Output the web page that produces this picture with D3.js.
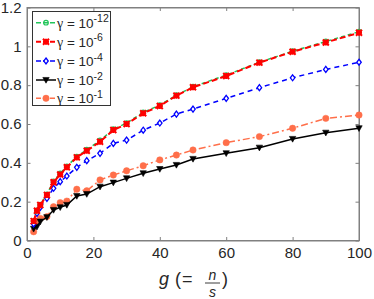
<!DOCTYPE html>
<head>
  <meta charset="utf-8">
  <script src="https://d3js.org/d3.v7.min.js"></script>
  <style>
    body { margin: 0; background: #fff; }
    text { font-family: "Liberation Sans", Arial, sans-serif; fill: #262626; }
  </style>
</head>
<body>
  <div id="graph"></div>
  <script>
    var width = 374, height = 299;

    // data
    var gVals = [2, 3, 4, 6, 8, 10, 12, 15, 18, 22, 26, 30, 35, 40, 45, 50, 60, 70, 80, 90, 100];
    var gamma12 = [0.10, 0.155, 0.185, 0.238, 0.305, 0.345, 0.382, 0.432, 0.468, 0.515, 0.573, 0.605, 0.66, 0.697, 0.748, 0.792, 0.852, 0.918, 0.975, 1.025, 1.075];
    var gamma6 = [0.10, 0.153, 0.183, 0.234, 0.30, 0.34, 0.377, 0.428, 0.462, 0.509, 0.569, 0.60, 0.655, 0.693, 0.746, 0.789, 0.847, 0.916, 0.972, 1.02, 1.07];
    var gamma4 = [0.085, 0.14, 0.171, 0.217, 0.269, 0.303, 0.332, 0.377, 0.411, 0.449, 0.50, 0.517, 0.568, 0.605, 0.651, 0.677, 0.732, 0.787, 0.838, 0.881, 0.918];
    var gamma2 = [0.06, 0.071, 0.097, 0.12, 0.157, 0.171, 0.183, 0.229, 0.239, 0.277, 0.298, 0.32, 0.346, 0.368, 0.389, 0.42, 0.449, 0.478, 0.523, 0.555, 0.578];
    var gamma1 = [0.045, 0.097, 0.114, 0.123, 0.174, 0.195, 0.203, 0.264, 0.256, 0.312, 0.337, 0.359, 0.385, 0.415, 0.44, 0.466, 0.504, 0.535, 0.578, 0.629, 0.646];
    var legendExp = ["-12", "-6", "-4", "-2", "-1"];
    var xTicks = [0, 20, 40, 60, 80, 100];
    var yTicks = [0, 0.2, 0.4, 0.6, 0.8, 1, 1.2];

    var series = [
      { y: gamma12, color: "#22c55a", dash: "4,3", marker: "circleOpen" },
      { y: gamma6, color: "#ff0000", dash: "6,3", marker: "cross" },
      { y: gamma4, color: "#0000ff", dash: "5,4", marker: "diamond" },
      { y: gamma2, color: "#000000", dash: null, marker: "triangle" },
      { y: gamma1, color: "#ff6f4a", dash: "7,3,2,3", marker: "circleFill" }
    ];

    var xmin = 27, xmax = 359, ytop = 7.5, ybot = 240.5;
    var x = d3.scaleLinear().domain([0, 100]).range([xmin, xmax]);
    var y = d3.scaleLinear().domain([0, 1.2]).range([ybot, ytop]);

    var svg = d3.select("#graph").append("svg")
      .attr("width", width)
      .attr("height", height);

    var axisColor = "#808080";

    // axes box + inward ticks
    svg.append("rect")
      .attr("x", xmin).attr("y", ytop)
      .attr("width", xmax - xmin).attr("height", ybot - ytop)
      .attr("fill", "none").attr("stroke", axisColor).attr("stroke-width", 1);

    var xAxis = d3.axisBottom(x).tickValues(xTicks).tickSizeInner(-3.5).tickSizeOuter(0).tickPadding(6.5);
    var gx = svg.append("g").attr("transform", "translate(0," + ybot + ")").call(xAxis);
    var yAxis = d3.axisLeft(y).tickValues(yTicks).tickSizeInner(-3.5).tickSizeOuter(0).tickPadding(5.5)
      .tickFormat(d3.format("~g"));
    var gy = svg.append("g").attr("transform", "translate(" + xmin + ",0)").call(yAxis);
    var gxt = svg.append("g").attr("transform", "translate(0," + ytop + ")")
      .call(d3.axisTop(x).tickValues(xTicks).tickSizeInner(-3.5).tickSizeOuter(0).tickFormat(""));
    var gyr = svg.append("g").attr("transform", "translate(" + xmax + ",0)")
      .call(d3.axisRight(y).tickValues(yTicks).tickSizeInner(-3.5).tickSizeOuter(0).tickFormat(""));

    [gx, gy, gxt, gyr].forEach(function(g) {
      g.select(".domain").attr("stroke", axisColor);
      g.selectAll(".tick line").attr("stroke", axisColor);
      g.selectAll("text").attr("font-size", 15).attr("fill", "#262626")
        .attr("font-family", "Liberation Sans, Arial, sans-serif");
    });

    function drawMarker(g, type, color, cx, cy) {
      if (type === "circleOpen") {
        g.append("circle").attr("cx", cx).attr("cy", cy).attr("r", 2.3)
          .attr("fill", "none").attr("stroke", color).attr("stroke-width", 1.2);
      } else if (type === "circleFill") {
        g.append("circle").attr("cx", cx).attr("cy", cy).attr("r", 3.2)
          .attr("fill", color).attr("stroke", color).attr("stroke-width", 0.5);
      } else if (type === "cross") {
        var s = 3;
        g.append("path")
          .attr("d", "M" + (cx - s) + "," + (cy - s) + "L" + (cx + s) + "," + (cy + s) +
            "M" + (cx - s) + "," + (cy + s) + "L" + (cx + s) + "," + (cy - s) +
            "M" + (cx - s) + "," + cy + "L" + (cx + s) + "," + cy +
            "M" + cx + "," + (cy - s) + "L" + cx + "," + (cy + s))
          .attr("stroke", color).attr("stroke-width", 2).attr("fill", "none");
      } else if (type === "diamond") {
        var d = 3;
        g.append("path")
          .attr("d", "M" + cx + "," + (cy - d) + "L" + (cx + d * 0.75) + "," + cy + "L" + cx + "," + (cy + d) + "L" + (cx - d * 0.75) + "," + cy + "Z")
          .attr("fill", "#fff").attr("stroke", color).attr("stroke-width", 1.3);
      } else if (type === "triangle") {
        var t = 3.2;
        g.append("path")
          .attr("d", "M" + (cx - t) + "," + (cy - t * 0.8) + "L" + (cx + t) + "," + (cy - t * 0.8) + "L" + cx + "," + (cy + t) + "Z")
          .attr("fill", color).attr("stroke", color).attr("stroke-width", 0.6);
      }
    }

    var line = d3.line()
      .x(function(d, i) { return x(gVals[i]); })
      .y(function(d) { return y(d); });

    // draw from back to front: orange, black, blue, green, red
    var order = [4, 3, 2, 0, 1];
    order.forEach(function(k) {
      var s = series[k];
      var g = svg.append("g");
      g.append("path")
        .datum(s.y)
        .attr("d", line)
        .attr("fill", "none")
        .attr("stroke", s.color)
        .attr("stroke-width", s.marker === "cross" ? 2 : 1.5)
        .attr("stroke-dasharray", s.dash);
      s.y.forEach(function(v, i) {
        drawMarker(g, s.marker, s.color, x(gVals[i]), y(v));
      });
    });

    // legend
    var leg = svg.append("g");
    leg.append("rect")
      .attr("x", 32.5).attr("y", 11.5).attr("width", 78).attr("height", 94)
      .attr("fill", "#fff").attr("stroke", "#333").attr("stroke-width", 1);
    var rowY = [22.7, 41.7, 61, 80, 98.3];
    series.forEach(function(s, i) {
      var yy = rowY[i];
      leg.append("line")
        .attr("x1", 36).attr("x2", 56).attr("y1", yy).attr("y2", yy)
        .attr("stroke", s.color).attr("stroke-width", s.marker === "cross" ? 2 : 1.5)
        .attr("stroke-dasharray", s.dash ? "5,2" : null);
      drawMarker(leg, s.marker, s.color, 46, yy);
      var tx = leg.append("text").attr("x", 57).attr("y", yy + 5)
        .attr("font-size", 13.5);
      tx.append("tspan").attr("font-family", "Liberation Serif, serif").attr("font-size", 14).text("\u03b3");
      tx.append("tspan").text(" = 10");
      tx.append("tspan").attr("dy", -5.5).attr("font-size", 10.5).text(legendExp[i]);
    });

    // x label: g (= n/s)
    var serif = "Liberation Serif, Times New Roman, serif";
    var lab = svg.append("g");
    lab.append("text").attr("x", 159).attr("y", 285)
      .attr("font-family", serif).attr("font-style", "italic").attr("font-size", 18).text("g");
    lab.append("text").attr("x", 175).attr("y", 285)
      .attr("font-family", serif).attr("font-size", 18).text("(");
    lab.append("text").attr("x", 182).attr("y", 285)
      .attr("font-family", serif).attr("font-size", 18).text("=");
    lab.append("text").attr("x", 212.5).attr("y", 279.5).attr("text-anchor", "middle")
      .attr("font-family", serif).attr("font-style", "italic").attr("font-size", 14).text("n");
    lab.append("line").attr("x1", 205).attr("x2", 220).attr("y1", 283).attr("y2", 283)
      .attr("stroke", "#262626").attr("stroke-width", 0.9);
    lab.append("text").attr("x", 212.5).attr("y", 297).attr("text-anchor", "middle")
      .attr("font-family", serif).attr("font-style", "italic").attr("font-size", 14).text("s");
    lab.append("text").attr("x", 222).attr("y", 285)
      .attr("font-family", serif).attr("font-size", 18).text(")");
  </script>
</body>
